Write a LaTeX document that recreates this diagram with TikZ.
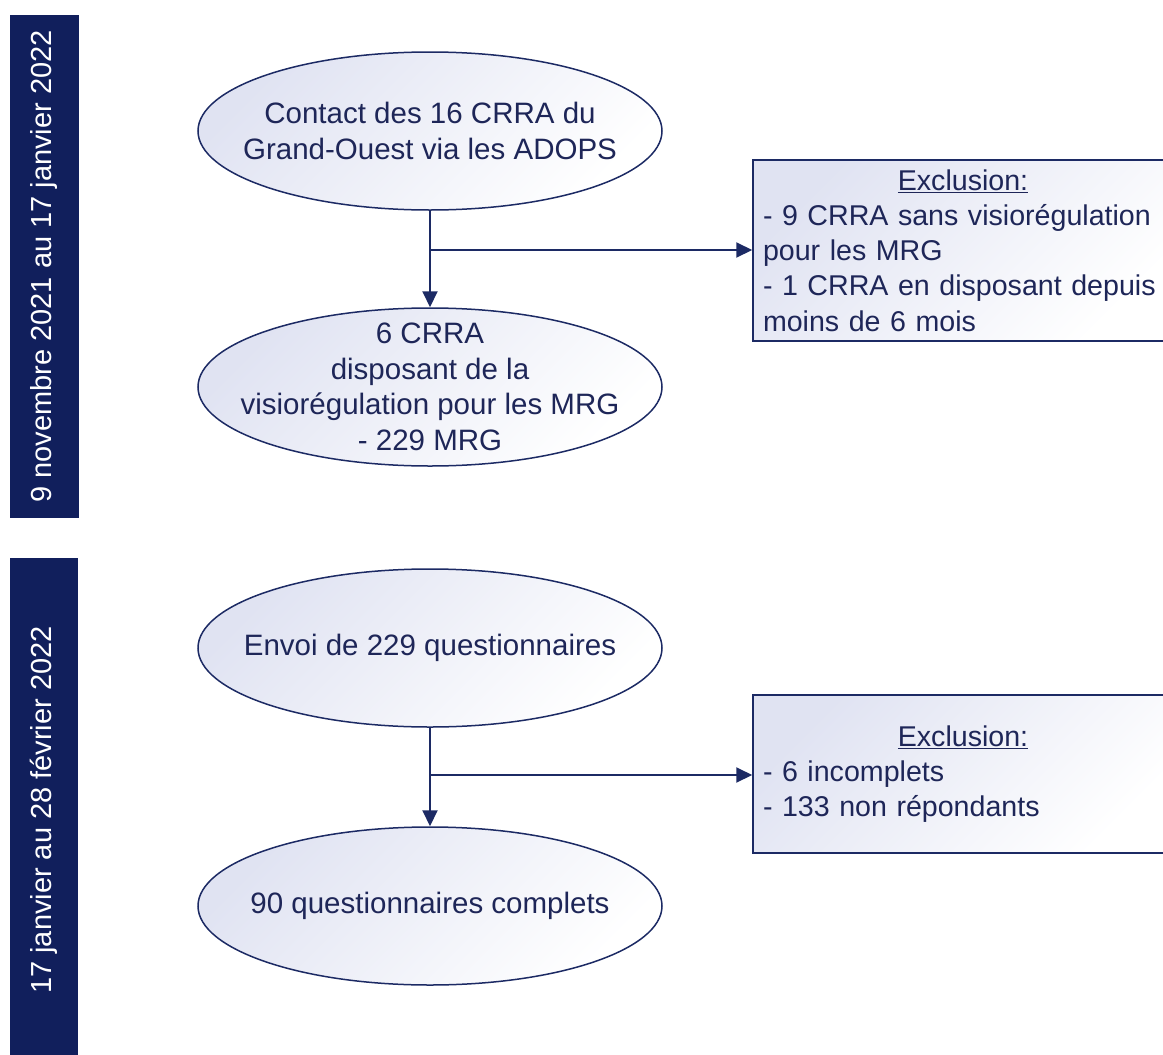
\documentclass[tikz,border=0pt]{standalone}
\usepackage{fontspec}
\setmainfont{Liberation Sans}
\usetikzlibrary{shapes.geometric,arrows.meta}
\definecolor{navy}{RGB}{17,31,92}
\definecolor{linec}{RGB}{28,42,100}
\definecolor{txtc}{RGB}{30,38,88}
\definecolor{lav}{RGB}{224,227,242}
\begin{document}
\begin{tikzpicture}[x=1pt,y=-1pt,
  base/.style={font=\fontsize{29.5}{35.5}\selectfont, text=txtc},
  shadefill/.style={top color=lav, bottom color=white, shading angle=45},
  oval/.style={ellipse, draw=linec, line width=1.5pt, shadefill,
    minimum width=464pt, minimum height=158pt, inner sep=0pt},
  txt/.style={base, align=center, inner sep=0pt},
  exbox/.style={base, font=\fontsize{28.6}{35.2}\selectfont, rectangle, draw=linec, line width=1.5pt, shadefill,
    minimum width=420pt, text width=400pt, inner xsep=10pt, inner ysep=0pt, align=left},
  sidebar/.style={rectangle, fill=navy, text=white, rotate=90,
    font=\fontsize{29}{34}\selectfont, inner sep=0pt},
  conn/.style={draw=linec, line width=2pt, -{Triangle[length=16pt,width=15pt]}}
]
\useasboundingbox (0,0) rectangle (1163,1055);
\clip (0,0) rectangle (1163,1055);

% sidebars
\node[sidebar, minimum width=503pt, minimum height=69pt] (s1) at (44.5,266.5) {9 novembre 2021 au 17 janvier 2022};
\node[sidebar, minimum width=504pt, minimum height=68pt] (s2) at (44,810) {17 janvier au 28 février 2022};

% top section
\node[oval] (e1) at (430,131) {};
\node[txt] (t1) at (e1) {Contact des 16 CRRA du\\Grand-Ouest via les ADOPS};
\node[oval] (e2) at (430,387) {};
\node[txt] (t2) at (e2) {6 CRRA\\disposant de la\\visiorégulation pour les MRG\\- 229 MRG};
\node[exbox, minimum height=181pt] (x1) at (963,250.5) {\makebox[\linewidth]{\underline{Exclusion:}}\\\mbox{- 9 CRRA sans visiorégulation}\\\mbox{pour les MRG}\\\mbox{- 1 CRRA en disposant depuis}\\\mbox{moins de 6 mois}};

\draw[conn] (e1.south) -- (e2.north);
\coordinate (j1) at (430,250);
\draw[conn] (j1) -- (x1.west |- j1);

% bottom section
\node[oval] (e3) at (430,648) {};
\node[txt] (t3) at (e3) {Envoi de 229 questionnaires};
\node[oval] (e4) at (430,906) {};
\node[txt] (t4) at (e4) {90 questionnaires complets};
\node[exbox, minimum height=158pt] (x2) at (963,774) {\makebox[\linewidth]{\underline{Exclusion:}}\\\mbox{- 6 incomplets}\\\mbox{- 133 non répondants}};

\draw[conn] (e3.south) -- (e4.north);
\coordinate (j2) at (430,775);
\draw[conn] (j2) -- (x2.west |- j2);
\end{tikzpicture}
\end{document}
